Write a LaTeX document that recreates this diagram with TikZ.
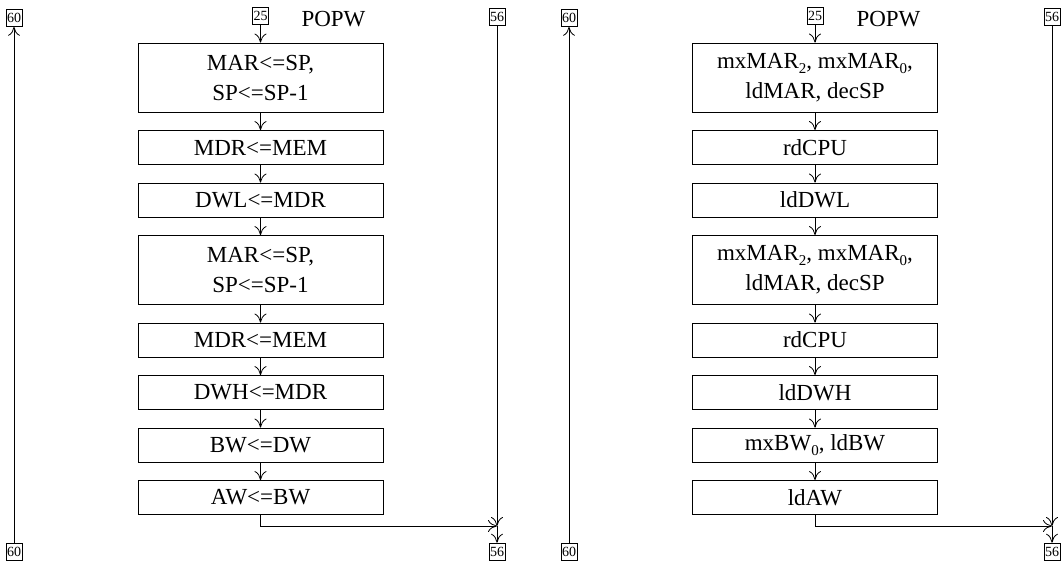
\documentclass[tikz,border=0pt]{standalone}
\usepackage{fontspec}
\setmainfont{Liberation Serif}
\usetikzlibrary{arrows.meta, positioning}

\newcommand{\lowsub}[1]{\raisebox{-0.45ex}{\fontsize{15}{15}\selectfont #1}}

\tikzset{
  op/.style={draw, line width=0.8pt, minimum width=245pt, minimum height=34pt,
    inner sep=0pt, align=center, font=\fontsize{23}{30}\selectfont},
  optwo/.style={op, minimum height=69pt},
  tag/.style={draw, line width=0.6pt, minimum width=16pt, minimum height=17pt,
    inner sep=0.5pt, font=\fontsize{14}{14}\selectfont},
  flow/.style={line width=0.8pt, -{Computer Modern Rightarrow[length=9pt,width=12pt]}},
}

\begin{document}
\begin{tikzpicture}[x=1pt,y=-1pt]
\useasboundingbox (0,0) rectangle (1061,560);

% left: register transfers
\node[tag] (l60t) at (14,18) {60};
\node[tag] (l60b) at (14,551.5) {60};
\node[tag] (l25) at (260.5,16) {25};
\node[anchor=base west, font=\fontsize{23}{23}\selectfont] (lname) at (298,26) {POPW};
\node[tag] (l56t) at (497,17) {56};
\node[tag] (l56b) at (497,551.5) {56};
\node[optwo] (lb1) at (260.5,77.5) {MAR<=SP,\\SP<=SP-1};
\node[op, below=17.7pt of lb1] (lb2) {MDR<=MEM};
\node[op, below=17.7pt of lb2] (lb3) {DWL<=MDR};
\node[optwo, below=17.7pt of lb3] (lb4) {MAR<=SP,\\SP<=SP-1};
\node[op, below=17.7pt of lb4] (lb5) {MDR<=MEM};
\node[op, below=17.7pt of lb5] (lb6) {DWH<=MDR};
\node[op, below=17.7pt of lb6] (lb7) {BW<=DW};
\node[op, below=17.7pt of lb7] (lb8) {AW<=BW};
\coordinate (lj) at (497,526);

\draw[flow] (l25) -- (lb1);
\draw[flow] (lb1) -- (lb2);
\draw[flow] (lb2) -- (lb3);
\draw[flow] (lb3) -- (lb4);
\draw[flow] (lb4) -- (lb5);
\draw[flow] (lb5) -- (lb6);
\draw[flow] (lb6) -- (lb7);
\draw[flow] (lb7) -- (lb8);
\draw[flow] (lb8.south) |- (lj);
\draw[flow] (l56t) -- (lj);
\draw[flow] (lj) -- (l56b);
\draw[flow] (l60b) -- (l60t);

% right: control signals
\node[tag] (r60t) at (569,18) {60};
\node[tag] (r60b) at (569,551.5) {60};
\node[tag] (r25) at (815,16) {25};
\node[anchor=base west, font=\fontsize{23}{23}\selectfont] (rname) at (853,26) {POPW};
\node[tag] (r56t) at (1052,17) {56};
\node[tag] (r56b) at (1052,551.5) {56};
\node[optwo] (rb1) at (815,77.5) {mxMAR\lowsub{2}, mxMAR\lowsub{0},\\ldMAR, decSP};
\node[op, below=17.7pt of rb1] (rb2) {rdCPU};
\node[op, below=17.7pt of rb2] (rb3) {ldDWL};
\node[optwo, below=17.7pt of rb3] (rb4) {mxMAR\lowsub{2}, mxMAR\lowsub{0},\\ldMAR, decSP};
\node[op, below=17.7pt of rb4] (rb5) {rdCPU};
\node[op, below=17.7pt of rb5] (rb6) {ldDWH};
\node[op, below=17.7pt of rb6] (rb7) {mxBW\lowsub{0}, ldBW};
\node[op, below=17.7pt of rb7] (rb8) {ldAW};
\coordinate (rj) at (1052,526);

\draw[flow] (r25) -- (rb1);
\draw[flow] (rb1) -- (rb2);
\draw[flow] (rb2) -- (rb3);
\draw[flow] (rb3) -- (rb4);
\draw[flow] (rb4) -- (rb5);
\draw[flow] (rb5) -- (rb6);
\draw[flow] (rb6) -- (rb7);
\draw[flow] (rb7) -- (rb8);
\draw[flow] (rb8.south) |- (rj);
\draw[flow] (r56t) -- (rj);
\draw[flow] (rj) -- (r56b);
\draw[flow] (r60b) -- (r60t);
\end{tikzpicture}
\end{document}
